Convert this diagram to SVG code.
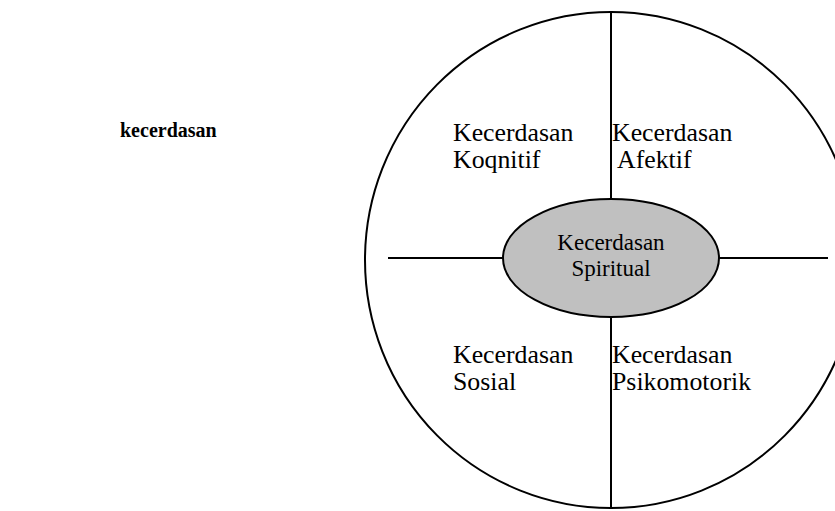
<svg xmlns="http://www.w3.org/2000/svg" width="835" height="511" viewBox="0 0 835 511">
<style>
text{font-family:"Liberation Serif","DejaVu Serif","Times New Roman",serif;fill:#000;}
.q{font-size:25.8px;}
.c{font-size:23px;text-anchor:middle;}
.ln{stroke:#000;stroke-width:2;fill:none;}
</style>
<rect width="835" height="511" fill="#fff"/>
<text x="120" y="137" font-size="20" font-weight="bold" font-family="Liberation Serif, serif">kecerdasan</text>
<g id="outer"><ellipse cx="611" cy="260" rx="246" ry="248" fill="none" stroke="#000" stroke-width="2"/></g>
<g id="connectors">
<line class="ln" x1="611" y1="12" x2="611" y2="199"/>
<line class="ln" x1="611" y1="316" x2="611" y2="508"/>
<line class="ln" x1="388" y1="258" x2="504" y2="258"/>
<line class="ln" x1="718" y1="258" x2="828" y2="258"/>
</g>
<g id="spiritual">
<ellipse cx="611" cy="258" rx="108" ry="59" fill="#c0c0c0" stroke="#000" stroke-width="2"/>
<text class="c" x="611" y="250" font-family="Liberation Serif, serif">Kecerdasan</text>
<text class="c" x="611" y="276" font-family="Liberation Serif, serif">Spiritual</text>
</g>
<g id="kognitif">
<text class="q" x="453" y="141" font-family="Liberation Serif, serif">Kecerdasan</text>
<text class="q" x="453" y="168" font-family="Liberation Serif, serif">Koqnitif</text>
</g>
<g id="afektif">
<text class="q" x="612" y="141" font-family="Liberation Serif, serif">Kecerdasan</text>
<text class="q" x="617" y="168" font-family="Liberation Serif, serif">Afektif</text>
</g>
<g id="sosial">
<text class="q" x="453" y="363" font-family="Liberation Serif, serif">Kecerdasan</text>
<text class="q" x="453" y="390" font-family="Liberation Serif, serif">Sosial</text>
</g>
<g id="psikomotorik">
<text class="q" x="612" y="363" font-family="Liberation Serif, serif">Kecerdasan</text>
<text class="q" x="612" y="390" font-family="Liberation Serif, serif">Psikomotorik</text>
</g>
</svg>
